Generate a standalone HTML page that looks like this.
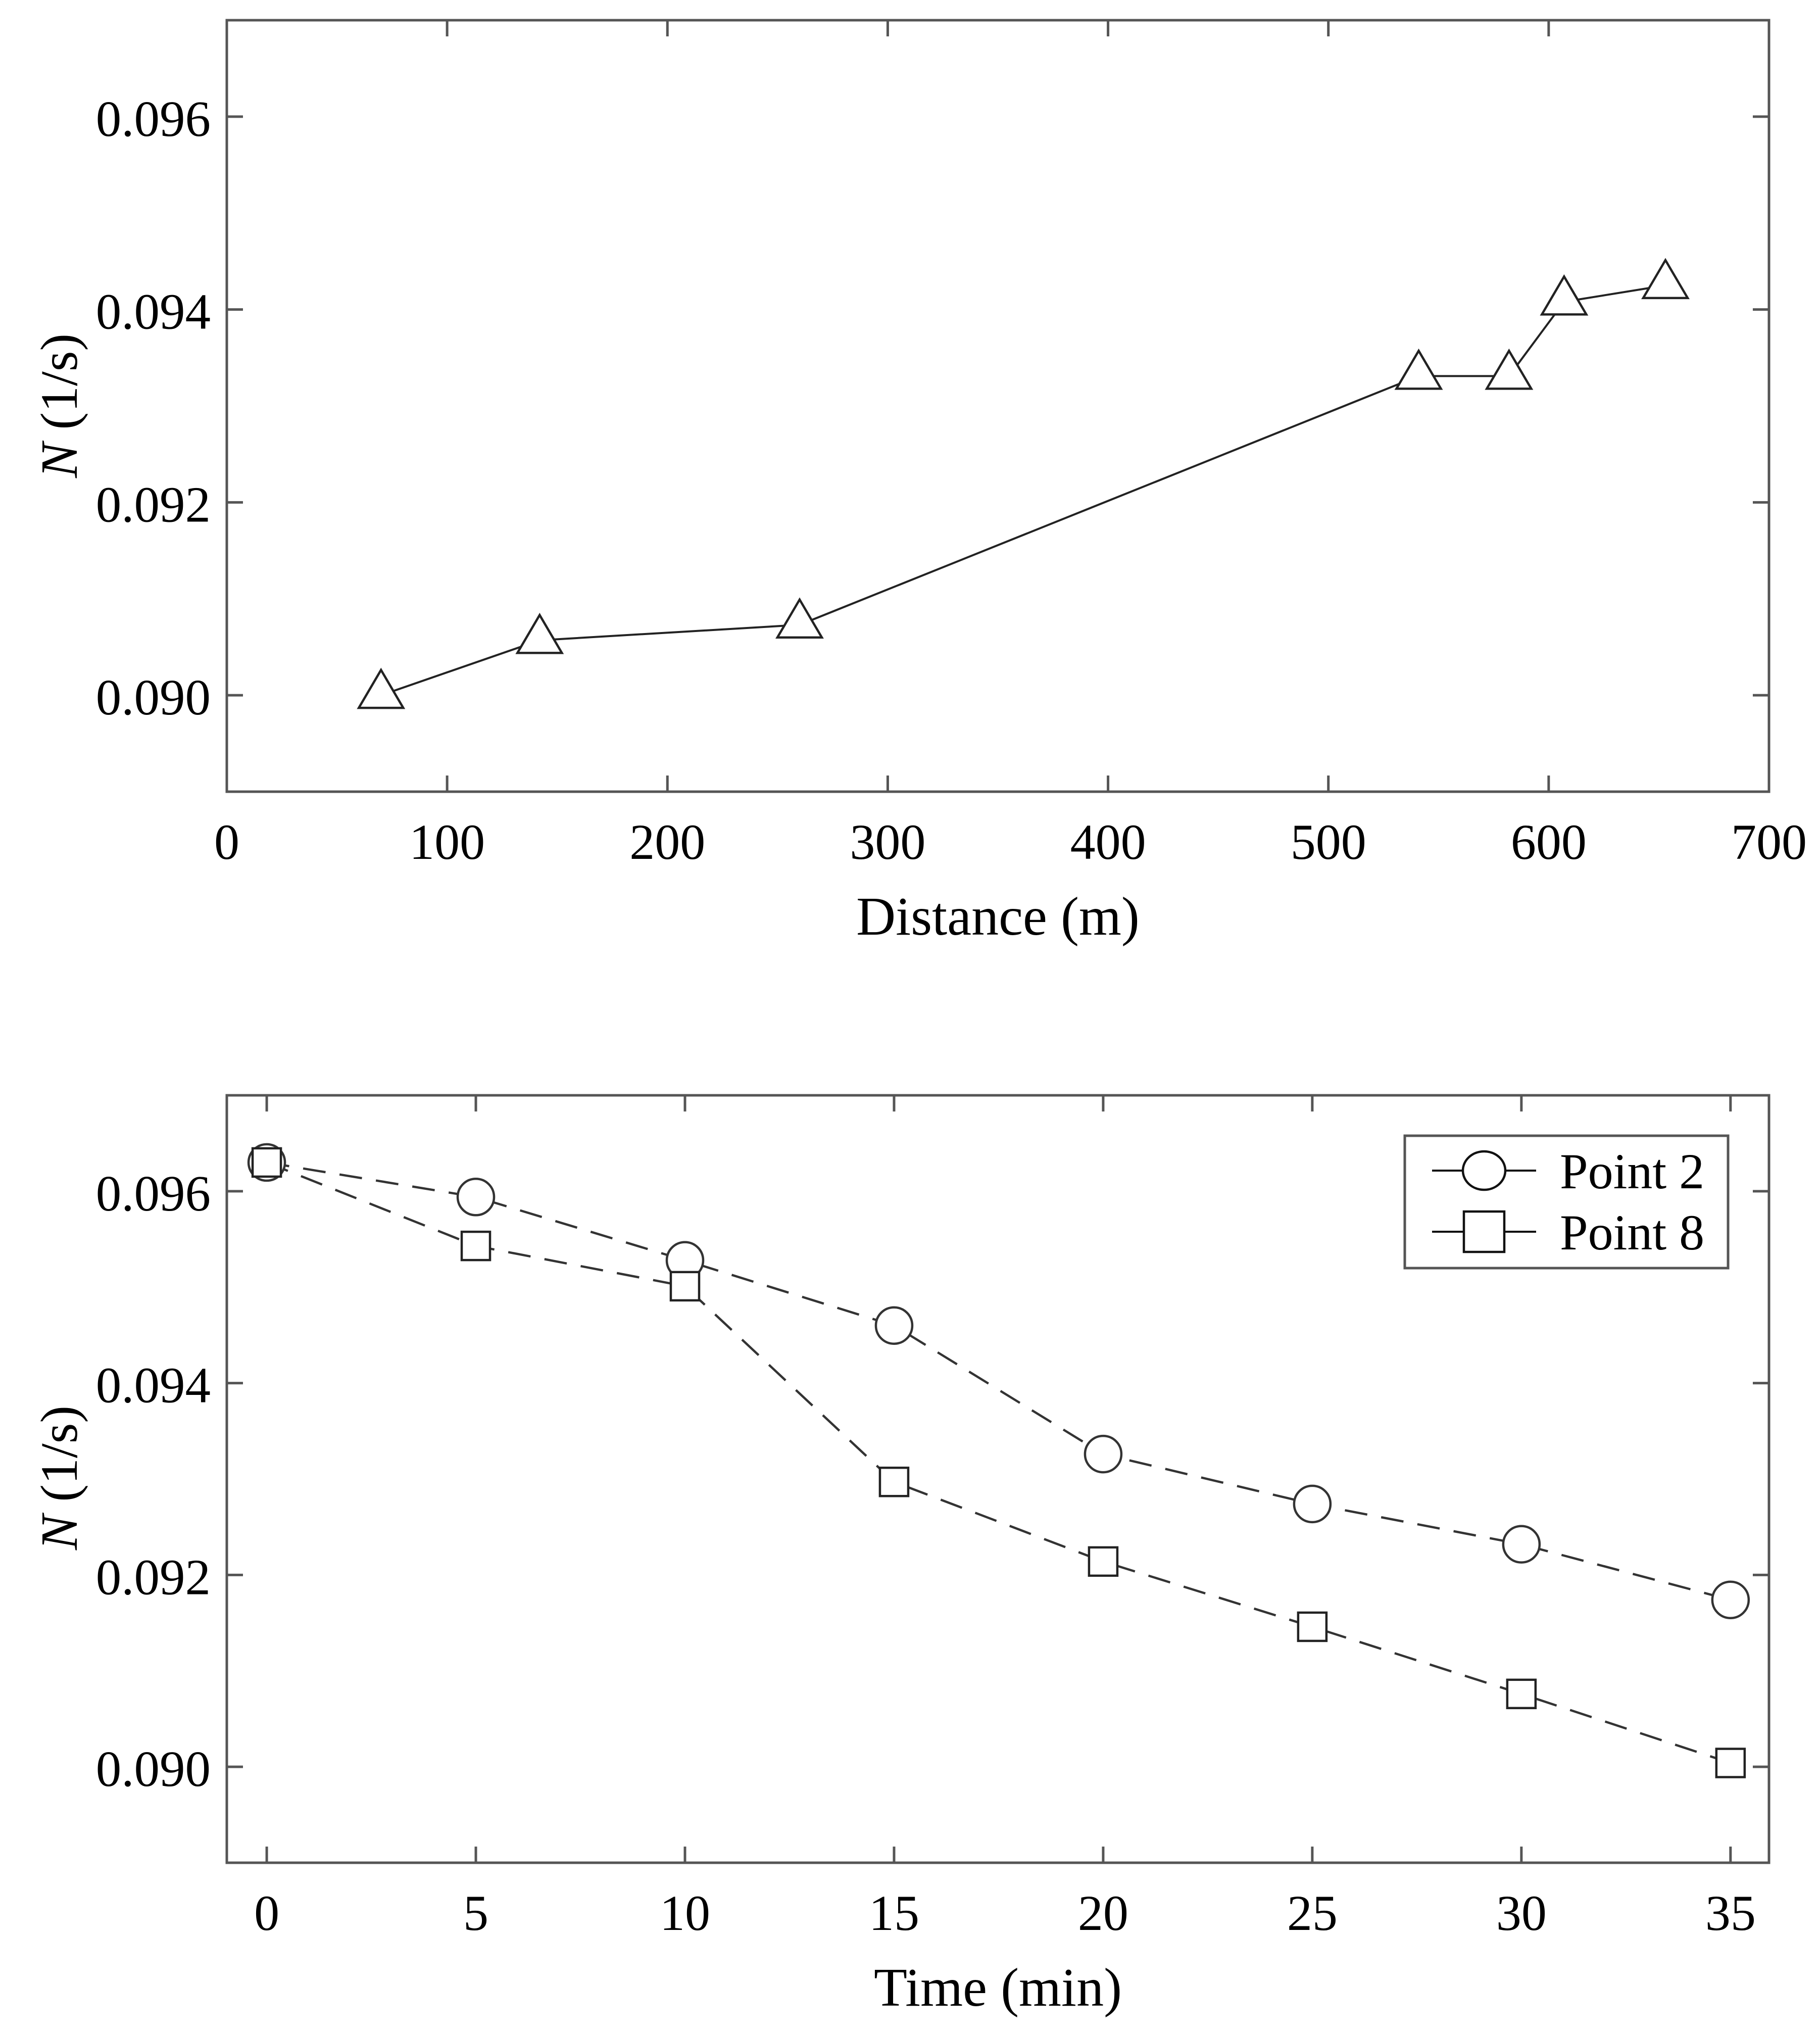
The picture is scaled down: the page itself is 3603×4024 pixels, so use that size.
<!DOCTYPE html>
<html><head><meta charset="utf-8"><style>
html,body{margin:0;padding:0;background:#fff;}
svg{display:block;}
text{font-family:"Liberation Serif",serif;fill:#000;}
</style></head><body>
<svg id="chart" width="3603" height="4024" viewBox="0 0 3603 4024" xmlns="http://www.w3.org/2000/svg">
<rect width="3603" height="4024" fill="#fff"/>
</svg>
<script>
const distCategories = [70, 142, 260, 541, 582, 607, 653];
const distValues = [0.0900, 0.09057, 0.09073, 0.09331, 0.09331, 0.09408, 0.09425];
const distXTicks = [0, 100, 200, 300, 400, 500, 600, 700];
const yTicks = [0.090, 0.092, 0.094, 0.096];
const yTickLabels = ["0.090", "0.092", "0.094", "0.096"];
const timeCategories = [0, 5, 10, 15, 20, 25, 30, 35];
const point2Values = [0.09630, 0.09594, 0.09528, 0.09460, 0.09326, 0.09274, 0.09232, 0.09174];
const point8Values = [0.09630, 0.09543, 0.09501, 0.09297, 0.09214, 0.09146, 0.09076, 0.09004];
const timeXTicks = [0, 5, 10, 15, 20, 25, 30, 35];

const NS = "http://www.w3.org/2000/svg";
const svgRoot = document.getElementById('chart');
function mk(tag, attrs, parent) {
  const e = document.createElementNS(NS, tag);
  for (const k in attrs) e.setAttribute(k, attrs[k]);
  (parent || svgRoot).appendChild(e);
  return e;
}
function scale(d0, d1, r0, r1) { return v => r0 + (v - d0) / (d1 - d0) * (r1 - r0); }

function panel(name, box, xdom, ydom, xticks, xtitle, ytitleY) {
  const g = mk('g', {});
  
  
  const sx = scale(xdom[0], xdom[1], box.x0, box.x1);
  const sy = scale(ydom[0], ydom[1], box.y1, box.y0);
  const frame = mk('rect', {x: box.x0, y: box.y0, width: box.x1 - box.x0, height: box.y1 - box.y0, fill: 'none', stroke: '#555', 'stroke-width': 5}, g);
  
  
  const tl = 32;
  xticks.forEach(t => {
    const x = sx(t);
    if (x > box.x0 + 5 && x < box.x1 - 5) {
      mk('line', {x1: x, y1: box.y1, x2: x, y2: box.y1 - tl, stroke: '#555', 'stroke-width': 5}, g);
      mk('line', {x1: x, y1: box.y0, x2: x, y2: box.y0 + tl, stroke: '#555', 'stroke-width': 5}, g);
    }
    const lb = mk('text', {x: x, y: box.y1 + 133, 'text-anchor': 'middle', 'font-size': 100}, g);
    lb.textContent = String(t);
    
    
  });
  yTicks.forEach((t, i) => {
    const y = sy(t);
    mk('line', {x1: box.x0, y1: y, x2: box.x0 + tl, y2: y, stroke: '#555', 'stroke-width': 5}, g);
    mk('line', {x1: box.x1, y1: y, x2: box.x1 - tl, y2: y, stroke: '#555', 'stroke-width': 5}, g);
    const lb = mk('text', {x: 417, y: y + 38, 'text-anchor': 'end', 'font-size': 101}, g);
    lb.textContent = yTickLabels[i];
    
    
  });
  const xt = mk('text', {x: (box.x0 + box.x1) / 2, y: box.y1 + 283, 'text-anchor': 'middle', 'font-size': 108}, g);
  xt.textContent = xtitle;
  
  
  const yt = mk('text', {x: 0, y: 0, 'text-anchor': 'middle', 'font-size': 104, transform: `translate(152,${ytitleY}) rotate(-90)`}, g);
  const it = document.createElementNS(NS, 'tspan');
  it.setAttribute('font-style', 'italic');
  it.textContent = 'N';
  yt.appendChild(it);
  yt.appendChild(document.createTextNode(' (1/s)'));
  
  
  return {g, sx, sy};
}

// Top panel
const topPanel = panel('distance-panel', {x0: 449, x1: 3502, y0: 40, y1: 1567}, [0, 700], [0.089, 0.097], distXTicks, 'Distance (m)', 803);
const pts1 = distCategories.map((c, i) => topPanel.sx(c) + ',' + topPanel.sy(distValues[i])).join(' ');
const l1 = mk('polyline', {points: pts1, fill: 'none', stroke: '#222', 'stroke-width': 4}, topPanel.g);


distCategories.forEach((c, i) => {
  const x = topPanel.sx(c), y = topPanel.sy(distValues[i]);
  const tri = mk('polygon', {points: `${x - 44},${y + 25} ${x + 44},${y + 25} ${x},${y - 50}`, fill: '#fff', stroke: '#222', 'stroke-width': 4.5}, topPanel.g);
  
  
});

// Bottom panel
const botPanel = panel('time-panel', {x0: 449, x1: 3502, y0: 2168, y1: 3687}, [-0.955, 35.92], [0.089, 0.097], timeXTicks, 'Time (min)', 2925);
function series(vals, name) {
  const pts = timeCategories.map((c, i) => botPanel.sx(c) + ',' + botPanel.sy(vals[i])).join(' ');
  const l = mk('polyline', {points: pts, fill: 'none', stroke: '#333', 'stroke-width': 4.5, 'stroke-dasharray': '45 28'}, botPanel.g);
  
  
}
series(point2Values, 'point-2-line');
series(point8Values, 'point-8-line');
timeCategories.forEach((c, i) => {
  const c1 = mk('circle', {cx: botPanel.sx(c), cy: botPanel.sy(point2Values[i]), r: 36, fill: '#fff', stroke: '#333', 'stroke-width': 4.5}, botPanel.g);
  
  
});
timeCategories.forEach((c, i) => {
  const s = mk('rect', {x: botPanel.sx(c) - 28, y: botPanel.sy(point8Values[i]) - 28, width: 56, height: 56, fill: '#fff', stroke: '#222', 'stroke-width': 4.5}, botPanel.g);
  
  
});

// Legend
const lg = mk('g', {});


mk('rect', {x: 2781, y: 2248, width: 640, height: 262, fill: '#fff', stroke: '#555', 'stroke-width': 5}, lg);
const e1 = mk('g', {}, lg);


mk('line', {x1: 2835, y1: 2317, x2: 3041, y2: 2317, stroke: '#111', 'stroke-width': 4}, e1);
mk('ellipse', {cx: 2938, cy: 2317, rx: 42, ry: 38, fill: '#fff', stroke: '#111', 'stroke-width': 4.5}, e1);
const t1 = mk('text', {x: 3088, y: 2352, 'font-size': 100}, e1);
t1.textContent = 'Point 2';
const e2 = mk('g', {}, lg);


mk('line', {x1: 2835, y1: 2438, x2: 3041, y2: 2438, stroke: '#111', 'stroke-width': 4}, e2);
mk('rect', {x: 2898, y: 2398, width: 80, height: 80, fill: '#fff', stroke: '#111', 'stroke-width': 4.5}, e2);
const t2 = mk('text', {x: 3088, y: 2473, 'font-size': 100}, e2);
t2.textContent = 'Point 8';
</script>
</body></html>
